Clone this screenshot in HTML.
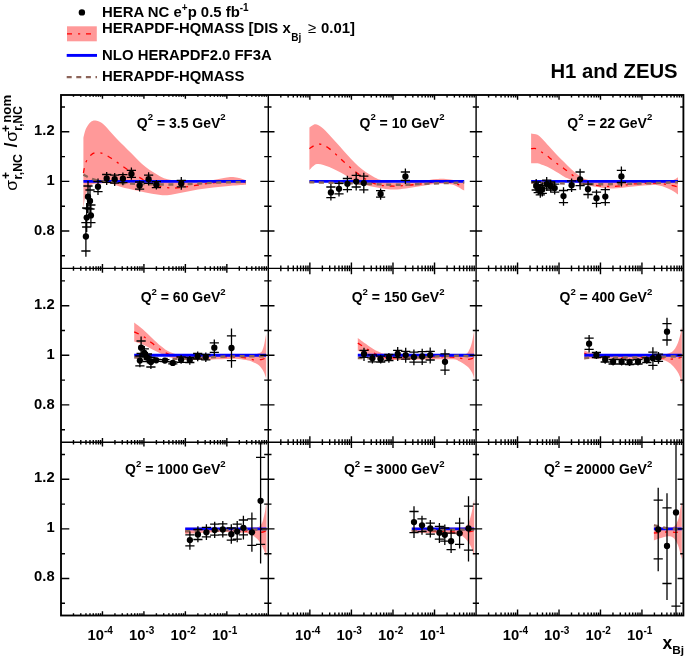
<!DOCTYPE html>
<html><head><meta charset="utf-8"><title>H1 and ZEUS</title><style>html,body{margin:0;padding:0;background:#fff}body{width:685px;height:659px;overflow:hidden}</style></head><body>
<svg width="685" height="659" viewBox="0 0 685 659" style="display:block;will-change:transform">
<rect width="685" height="659" fill="#fff"/>
<defs>
<clipPath id="c0"><rect x="61.0" y="95.0" width="207.3" height="173.4"/></clipPath>
<clipPath id="c1"><rect x="268.3" y="95.0" width="207.8" height="173.4"/></clipPath>
<clipPath id="c2"><rect x="476.1" y="95.0" width="207.3" height="173.4"/></clipPath>
<clipPath id="c3"><rect x="61.0" y="268.4" width="207.3" height="173.8"/></clipPath>
<clipPath id="c4"><rect x="268.3" y="268.4" width="207.8" height="173.8"/></clipPath>
<clipPath id="c5"><rect x="476.1" y="268.4" width="207.3" height="173.8"/></clipPath>
<clipPath id="c6"><rect x="61.0" y="442.2" width="207.3" height="173.3"/></clipPath>
<clipPath id="c7"><rect x="268.3" y="442.2" width="207.8" height="173.3"/></clipPath>
<clipPath id="c8"><rect x="476.1" y="442.2" width="207.3" height="173.3"/></clipPath>
</defs>
<g clip-path="url(#c0)">
<path d="M83.4 137.7C83.8 136.2 84.7 131.6 85.8 129.0C86.9 126.5 88.6 123.8 90.2 122.4C91.8 121.0 93.3 120.4 95.3 120.5C97.2 120.6 99.6 121.4 101.9 123.1C104.2 124.8 106.8 127.8 109.2 130.4C111.6 133.0 114.1 135.9 116.5 138.5C118.9 141.1 121.4 143.4 123.8 145.8C126.2 148.2 128.7 150.7 131.1 153.1C133.5 155.5 136.0 158.1 138.4 160.4C140.8 162.7 143.3 165.0 145.7 166.9C148.1 168.8 150.6 170.4 153.0 172.0C155.4 173.6 157.9 175.2 160.3 176.4C162.7 177.6 165.2 178.6 167.6 179.3C170.0 180.0 172.4 180.4 174.9 180.8C177.4 181.2 178.8 181.5 182.6 181.8C186.4 182.1 192.9 182.7 198.0 182.4C203.1 182.1 208.2 180.8 213.3 179.9C218.4 179.0 224.5 177.5 228.6 177.2C232.7 176.8 234.9 177.3 237.8 177.8C240.7 178.3 244.6 179.8 246.0 180.2L246.0 184.8C243.1 185.0 234.0 185.6 228.6 186.0C223.2 186.4 218.4 186.9 213.3 187.5C208.2 188.1 203.1 188.7 198.0 189.5C192.9 190.3 187.7 191.6 182.6 192.5C177.5 193.4 172.4 195.0 167.3 195.2C162.2 195.4 157.1 194.5 152.0 193.7C146.9 192.9 141.7 191.7 136.6 190.6C131.5 189.5 125.7 188.2 121.3 187.0C116.9 185.8 113.6 184.2 110.0 183.6C106.4 183.0 103.1 183.3 99.9 183.6C96.7 183.9 93.1 183.4 90.7 185.5C88.3 187.6 86.7 192.2 85.5 196.0C84.3 199.8 83.8 206.3 83.4 208.4Z" fill="#ff9999"/>
<path d="M83.4 173.0C83.8 171.2 84.7 165.0 86.0 162.0C87.3 159.0 89.2 156.6 91.0 155.0C92.8 153.4 94.5 152.7 96.7 152.5C98.9 152.3 101.3 152.8 104.0 154.0C106.7 155.2 109.8 157.4 113.0 159.5C116.2 161.6 119.7 164.2 123.0 166.5C126.3 168.8 129.7 171.3 133.0 173.5C136.3 175.7 139.7 177.8 143.0 179.5C146.3 181.2 149.7 182.8 153.0 184.0C156.3 185.2 159.7 186.3 163.0 187.0C166.3 187.7 169.7 187.9 173.0 188.0C176.3 188.1 178.8 187.8 183.0 187.3C187.2 186.8 193.0 185.8 198.0 185.0C203.0 184.2 208.0 183.4 213.0 182.8C218.0 182.2 222.5 181.7 228.0 181.5C233.5 181.3 243.0 181.8 246.0 181.8" fill="none" stroke="#ff0000" stroke-width="1.3" stroke-dasharray="5 6 2.2 5.8"/>
<path d="M83.4 181.4H246.0" stroke="#0000ff" stroke-width="2.9" fill="none"/>
<path d="M83.4 174.7C84.5 175.2 87.2 176.9 90.0 178.0C92.8 179.1 95.0 180.2 100.0 181.0C105.0 181.8 113.3 182.5 120.0 183.0C126.7 183.5 133.3 183.8 140.0 184.0C146.7 184.2 153.3 184.4 160.0 184.5C166.7 184.6 173.3 184.5 180.0 184.3C186.7 184.1 193.3 183.8 200.0 183.5C206.7 183.2 212.3 182.8 220.0 182.5C227.7 182.2 241.7 182.1 246.0 182.0" fill="none" stroke="#8c6459" stroke-width="2.4" stroke-dasharray="5 4.6"/>
<path d="M85.9 216.0V256.8M86.7 203.0V232.0M88.0 181.0V213.0M90.0 186.0V214.0M90.9 200.0V227.0M98.0 178.5V195.0M106.7 172.0V185.0M114.7 173.0V186.0M122.9 172.5V185.3M131.4 167.5V179.8M139.6 180.6V191.5M148.6 172.2V185.6M156.4 180.1V189.5M181.3 177.1V189.7M81.3 222.6h9.2M81.3 251.0h9.2M82.1 208.0h9.2M82.1 227.0h9.2M83.4 186.0h9.2M83.4 208.5h9.2M85.4 190.0h9.2M85.4 209.0h9.2M86.3 205.0h9.2M86.3 222.6h9.2M93.4 181.5h9.2M93.4 191.7h9.2M102.1 174.5h9.2M102.1 182.4h9.2M110.1 175.2h9.2M110.1 183.2h9.2M118.3 174.7h9.2M118.3 182.7h9.2M126.8 170.4h9.2M126.8 177.4h9.2M135.0 182.0h9.2M135.0 189.1h9.2M144.0 175.1h9.2M144.0 183.3h9.2M151.8 181.7h9.2M151.8 187.6h9.2M176.7 180.4h9.2M176.7 186.8h9.2" stroke="#000" stroke-width="1.3" fill="none"/>
<circle cx="85.9" cy="236.5" r="3.15"/><circle cx="86.7" cy="217.6" r="3.15"/><circle cx="88.0" cy="196.7" r="3.15"/><circle cx="90.0" cy="200.9" r="3.15"/><circle cx="90.9" cy="215.4" r="3.15"/><circle cx="98.0" cy="186.7" r="3.15"/><circle cx="106.7" cy="178.4" r="3.15"/><circle cx="114.7" cy="179.2" r="3.15"/><circle cx="122.9" cy="178.7" r="3.15"/><circle cx="131.4" cy="173.9" r="3.15"/><circle cx="139.6" cy="185.6" r="3.15"/><circle cx="148.6" cy="179.2" r="3.15"/><circle cx="156.4" cy="184.7" r="3.15"/><circle cx="181.3" cy="183.5" r="3.15"/>
</g>
<g clip-path="url(#c1)">
<path d="M309.4 127.5C310.4 127.0 313.2 124.2 315.3 124.2C317.4 124.2 319.6 125.7 321.9 127.5C324.2 129.3 326.8 132.2 329.2 134.8C331.6 137.4 334.1 140.1 336.5 142.8C338.9 145.5 341.4 148.2 343.8 150.9C346.2 153.6 348.7 156.4 351.1 158.9C353.5 161.4 356.0 164.0 358.4 166.2C360.8 168.4 363.3 170.3 365.7 172.0C368.1 173.7 370.6 175.1 373.0 176.4C375.4 177.7 377.4 178.8 380.3 179.8C383.2 180.8 386.3 182.0 390.6 182.4C394.9 182.8 400.9 182.6 406.0 182.4C411.1 182.2 416.2 181.6 421.3 181.0C426.4 180.4 432.5 179.3 436.6 179.0C440.7 178.7 442.7 178.7 445.8 178.9C448.9 179.1 451.9 179.7 455.0 180.3C458.1 180.9 462.7 182.2 464.2 182.6L464.2 190.6C462.2 189.6 456.6 185.6 452.0 184.5C447.4 183.4 441.7 183.7 436.6 183.9C431.5 184.2 426.4 185.2 421.3 186.0C416.2 186.8 411.1 187.9 406.0 188.5C400.9 189.1 396.7 189.8 390.6 189.4C384.5 189.0 375.3 187.4 369.2 186.0C363.1 184.6 357.9 182.7 353.8 180.8C349.7 178.9 348.7 177.0 344.6 174.7C340.5 172.4 333.9 168.8 329.3 167.0C324.7 165.2 320.3 163.5 317.0 164.0C313.7 164.5 310.7 169.1 309.4 170.1Z" fill="#ff9999"/>
<path d="M309.4 148.6C310.9 147.8 315.3 144.0 318.6 144.0C321.9 144.0 325.0 145.5 329.3 148.6C333.6 151.7 339.5 157.9 344.6 162.4C349.7 166.9 354.9 171.7 360.0 175.3C365.1 178.9 370.2 182.1 375.3 183.9C380.4 185.7 385.5 185.8 390.6 186.0C395.7 186.2 400.9 185.8 406.0 185.4C411.1 185.1 416.2 184.5 421.3 183.9C426.4 183.3 431.5 182.3 436.6 182.1C441.7 181.9 447.4 181.9 452.0 182.7C456.6 183.5 462.2 186.3 464.2 187.0" fill="none" stroke="#ff0000" stroke-width="1.3" stroke-dasharray="5 6 2.2 5.8"/>
<path d="M309.4 181.4H464.2" stroke="#0000ff" stroke-width="2.9" fill="none"/>
<path d="M309.4 182.3C314.5 182.4 329.9 182.7 340.0 183.0C350.1 183.3 360.0 183.7 370.0 184.0C380.0 184.3 390.0 184.9 400.0 184.8C410.0 184.7 419.3 184.0 430.0 183.6C440.7 183.2 458.5 182.7 464.2 182.5" fill="none" stroke="#8c6459" stroke-width="2.4" stroke-dasharray="5 4.6"/>
<path d="M330.9 184.1V200.6M339.0 181.2V196.5M347.4 175.8V192.4M356.2 172.4V190.4M363.8 172.8V193.3M380.6 188.5V199.7M405.4 168.5V184.1M326.3 187.0h9.2M326.3 197.7h9.2M334.4 183.4h9.2M334.4 193.9h9.2M342.8 178.5h9.2M342.8 189.6h9.2M351.6 175.3h9.2M351.6 187.0h9.2M359.2 176.1h9.2M359.2 189.9h9.2M376.0 190.7h9.2M376.0 197.2h9.2M400.8 172.0h9.2M400.8 180.4h9.2" stroke="#000" stroke-width="1.3" fill="none"/>
<circle cx="330.9" cy="192.4" r="3.15"/><circle cx="339.0" cy="188.8" r="3.15"/><circle cx="347.4" cy="183.8" r="3.15"/><circle cx="356.2" cy="181.6" r="3.15"/><circle cx="363.8" cy="183.1" r="3.15"/><circle cx="380.6" cy="193.9" r="3.15"/><circle cx="405.4" cy="176.4" r="3.15"/>
</g>
<g clip-path="url(#c2)">
<path d="M531.1 133.4C532.2 133.6 535.7 134.0 537.5 134.8C539.3 135.7 539.9 136.6 541.9 138.5C543.9 140.4 546.8 143.8 549.2 146.5C551.6 149.2 554.1 151.9 556.5 154.5C558.9 157.1 561.4 159.4 563.8 161.8C566.2 164.2 568.7 166.9 571.1 169.1C573.5 171.3 576.0 173.3 578.4 175.0C580.8 176.7 582.5 178.2 585.7 179.3C588.9 180.4 593.1 181.4 597.6 181.8C602.1 182.2 607.9 181.8 613.0 181.8C618.1 181.8 623.2 181.8 628.3 181.8C633.4 181.8 638.5 181.8 643.6 181.8C648.7 181.8 654.4 182.0 659.0 181.8C663.6 181.6 668.0 181.6 671.2 180.8C674.4 180.0 676.9 177.8 678.0 177.2L678.0 194.6C676.9 193.8 674.4 191.5 671.2 190.0C668.0 188.5 663.6 186.2 659.0 185.4C654.4 184.6 648.7 185.1 643.6 185.4C638.5 185.7 633.4 186.5 628.3 187.0C623.2 187.5 618.1 188.5 613.0 188.5C607.9 188.5 603.7 188.0 597.6 187.0C591.5 186.0 581.1 183.8 576.2 182.4C571.3 181.0 570.3 179.6 568.2 178.6C566.1 177.6 565.8 177.5 563.8 176.4C561.8 175.3 558.9 173.4 556.5 172.0C554.1 170.6 551.6 168.9 549.2 167.7C546.8 166.5 543.9 165.4 541.9 164.7C539.9 164.0 539.3 163.5 537.5 163.3C535.7 163.1 532.2 163.3 531.1 163.3Z" fill="#ff9999"/>
<path d="M531.1 148.7C531.9 148.7 534.2 148.1 536.0 148.7C537.8 149.3 539.7 150.9 541.9 152.3C544.1 153.8 546.8 155.6 549.2 157.4C551.6 159.2 554.1 161.5 556.5 163.3C558.9 165.1 561.4 166.6 563.8 168.4C566.2 170.2 568.7 172.4 571.1 174.2C573.5 176.0 576.0 177.5 578.4 179.0C580.8 180.5 582.1 181.8 585.7 183.0C589.4 184.2 595.4 185.3 600.3 185.9C605.2 186.5 610.2 186.6 614.9 186.4C619.6 186.2 623.5 185.0 628.3 184.5C633.1 184.0 638.5 183.5 643.6 183.3C648.7 183.1 654.4 183.0 659.0 183.3C663.6 183.7 668.0 184.8 671.2 185.4C674.4 186.0 676.9 186.7 678.0 187.0" fill="none" stroke="#ff0000" stroke-width="1.3" stroke-dasharray="5 6 2.2 5.8"/>
<path d="M531.1 181.4H678.0" stroke="#0000ff" stroke-width="2.9" fill="none"/>
<path d="M531.1 182.6C535.9 182.7 548.5 183.0 560.0 183.3C571.5 183.6 586.7 184.3 600.0 184.3C613.3 184.3 627.0 183.8 640.0 183.5C653.0 183.2 671.7 182.5 678.0 182.3" fill="none" stroke="#8c6459" stroke-width="2.4" stroke-dasharray="5 4.6"/>
<path d="M536.2 179.0V193.0M538.2 181.6V195.6M540.3 183.8V197.8M542.3 182.4V196.4M546.7 177.1V191.1M550.7 179.5V192.5M554.7 181.6V194.6M563.5 187.3V205.8M571.6 178.5V192.1M580.1 168.8V189.7M588.0 180.9V198.5M596.5 189.7V207.4M605.3 187.3V205.8M621.4 166.4V186.5M531.6 182.0h9.2M531.6 190.0h9.2M533.6 184.6h9.2M533.6 192.6h9.2M535.7 186.8h9.2M535.7 194.8h9.2M537.7 185.4h9.2M537.7 193.4h9.2M542.1 180.1h9.2M542.1 188.1h9.2M546.1 182.0h9.2M546.1 190.0h9.2M550.1 184.1h9.2M550.1 192.1h9.2M558.9 190.5h9.2M558.9 202.6h9.2M567.0 180.9h9.2M567.0 189.7h9.2M575.5 172.0h9.2M575.5 185.7h9.2M583.4 184.1h9.2M583.4 194.5h9.2M591.9 192.1h9.2M591.9 203.4h9.2M600.7 189.7h9.2M600.7 202.6h9.2M616.8 170.4h9.2M616.8 182.5h9.2" stroke="#000" stroke-width="1.3" fill="none"/>
<circle cx="536.2" cy="186.0" r="3.15"/><circle cx="538.2" cy="188.6" r="3.15"/><circle cx="540.3" cy="190.8" r="3.15"/><circle cx="542.3" cy="189.4" r="3.15"/><circle cx="546.7" cy="184.1" r="3.15"/><circle cx="550.7" cy="186.0" r="3.15"/><circle cx="554.7" cy="188.1" r="3.15"/><circle cx="563.5" cy="196.1" r="3.15"/><circle cx="571.6" cy="185.2" r="3.15"/><circle cx="580.1" cy="179.3" r="3.15"/><circle cx="588.0" cy="189.2" r="3.15"/><circle cx="596.5" cy="198.2" r="3.15"/><circle cx="605.3" cy="196.6" r="3.15"/><circle cx="621.4" cy="176.4" r="3.15"/>
</g>
<g clip-path="url(#c3)">
<path d="M134.2 322.6C135.6 323.7 139.8 326.8 142.8 329.3C145.8 331.9 148.9 335.1 152.0 337.9C155.1 340.7 158.1 343.8 161.2 346.2C164.3 348.6 166.8 350.8 170.4 352.3C174.0 353.8 178.0 354.9 182.6 355.4C187.2 355.9 192.9 355.5 198.0 355.4C203.1 355.3 208.2 354.9 213.3 354.8C218.4 354.7 223.5 354.8 228.6 354.8C233.7 354.8 239.9 354.9 244.0 354.8C248.1 354.7 250.8 354.5 253.1 354.3C255.4 354.1 256.8 353.8 258.0 353.5C259.2 353.2 259.9 352.9 260.6 352.5C261.3 352.1 261.7 351.9 262.2 350.8C262.7 349.7 263.4 347.6 263.8 346.0C264.2 344.4 264.5 343.0 264.8 341.2C265.1 339.4 265.7 336.5 265.9 335.4C266.1 334.2 266.1 334.5 266.2 334.3L266.2 378.9C266.1 378.5 265.8 377.4 265.4 376.3C265.0 375.2 264.5 373.4 263.8 372.0C263.1 370.6 262.1 369.0 261.1 367.8C260.1 366.6 259.3 365.6 257.9 364.6C256.5 363.6 254.5 362.8 252.6 362.0C250.7 361.2 249.0 360.6 246.2 360.1C243.4 359.6 238.5 359.0 235.6 358.8C232.7 358.6 232.3 358.9 228.6 359.0C224.9 359.1 218.4 359.2 213.3 359.4C208.2 359.6 203.1 360.0 198.0 360.0C192.9 360.0 187.2 359.8 182.6 359.4C178.0 359.0 174.0 358.4 170.4 357.5C166.8 356.6 164.3 355.2 161.2 353.8C158.1 352.4 155.1 350.7 152.0 349.2C148.9 347.7 145.8 345.9 142.8 344.6C139.8 343.3 135.6 342.1 134.2 341.6Z" fill="#ff9999"/>
<path d="M134.2 331.8C135.6 332.5 139.8 334.2 142.8 336.1C145.8 338.0 148.9 340.8 152.0 343.1C155.1 345.5 158.1 348.2 161.2 350.2C164.3 352.1 166.8 353.6 170.4 354.8C174.0 356.0 178.0 357.0 182.6 357.5C187.2 358.0 192.9 357.9 198.0 357.8C203.1 357.7 208.2 357.0 213.3 356.9C218.4 356.8 223.5 356.8 228.6 356.9C233.7 357.0 239.8 357.1 244.0 357.6C248.2 358.1 250.7 359.5 253.7 359.8C256.7 360.1 260.1 359.7 262.2 359.3C264.3 358.9 265.5 357.8 266.2 357.5" fill="none" stroke="#ff0000" stroke-width="1.3" stroke-dasharray="5 6 2.2 5.8"/>
<path d="M134.2 355.3H266.2" stroke="#0000ff" stroke-width="2.9" fill="none"/>
<path d="M134.2 357.3C136.8 357.5 144.0 358.2 150.0 358.5C156.0 358.8 163.3 359.0 170.0 359.0C176.7 359.0 183.3 358.8 190.0 358.5C196.7 358.2 203.3 357.7 210.0 357.3C216.7 356.9 220.6 356.6 230.0 356.4C239.4 356.2 260.2 356.3 266.2 356.3" fill="none" stroke="#8c6459" stroke-width="2.4" stroke-dasharray="5 4.6"/>
<path d="M139.9 354.0V367.3M141.1 336.6V356.5M144.3 346.0V360.0M147.4 352.0V363.5M150.9 355.5V369.0M156.2 358.0V362.6M164.9 358.3V362.9M172.8 360.6V365.2M181.1 355.0V363.8M189.8 355.9V364.7M197.7 351.5V361.2M205.8 352.4V362.0M214.3 339.6V355.9M231.5 328.4V367.7M135.3 356.0h9.2M135.3 365.9h9.2M136.5 341.0h9.2M136.5 353.5h9.2M139.7 348.9h9.2M139.7 357.0h9.2M142.8 354.0h9.2M142.8 361.5h9.2M146.3 357.5h9.2M146.3 367.0h9.2M151.6 359.3h9.2M151.6 361.3h9.2M160.3 359.6h9.2M160.3 361.6h9.2M168.2 361.9h9.2M168.2 363.9h9.2M176.5 357.0h9.2M176.5 362.3h9.2M185.2 357.5h9.2M185.2 362.5h9.2M193.1 353.5h9.2M193.1 359.0h9.2M201.2 354.5h9.2M201.2 359.8h9.2M209.7 342.8h9.2M209.7 352.4h9.2M226.9 335.8h9.2M226.9 360.6h9.2" stroke="#000" stroke-width="1.3" fill="none"/>
<circle cx="139.9" cy="360.6" r="3.15"/><circle cx="141.1" cy="347.7" r="3.15"/><circle cx="144.3" cy="352.9" r="3.15"/><circle cx="147.4" cy="357.7" r="3.15"/><circle cx="150.9" cy="362.0" r="3.15"/><circle cx="156.2" cy="360.3" r="3.15"/><circle cx="164.9" cy="360.6" r="3.15"/><circle cx="172.8" cy="362.9" r="3.15"/><circle cx="181.1" cy="359.8" r="3.15"/><circle cx="189.8" cy="359.9" r="3.15"/><circle cx="197.7" cy="356.3" r="3.15"/><circle cx="205.8" cy="357.1" r="3.15"/><circle cx="214.3" cy="347.7" r="3.15"/><circle cx="231.5" cy="348.0" r="3.15"/>
</g>
<g clip-path="url(#c4)">
<path d="M357.8 337.9C359.2 338.9 363.2 341.9 366.1 344.0C369.0 346.1 372.2 348.6 375.3 350.2C378.4 351.8 380.9 352.9 384.5 353.8C388.1 354.7 390.7 355.2 396.8 355.4C402.9 355.6 412.1 354.9 421.3 354.8C430.5 354.7 444.9 354.9 451.9 354.8C458.8 354.8 460.4 354.8 463.0 354.5C465.6 354.2 466.1 354.0 467.2 353.2C468.3 352.4 468.8 350.8 469.4 349.6C470.0 348.4 470.4 347.5 470.9 346.0C471.4 344.5 471.9 342.6 472.3 340.8C472.7 339.0 473.1 336.7 473.4 335.0C473.7 333.3 474.1 331.5 474.2 330.8L474.2 380.0C474.0 379.2 473.7 376.5 473.1 375.0C472.6 373.5 471.8 372.1 470.9 370.8C470.0 369.5 469.1 368.2 468.0 367.1C466.9 366.0 465.8 365.2 464.3 364.2C462.8 363.2 461.3 362.1 459.2 361.3C457.1 360.5 458.2 359.6 451.9 359.3C445.6 359.0 430.5 359.3 421.3 359.4C412.1 359.5 402.9 360.0 396.8 360.0C390.7 360.0 388.1 359.8 384.5 359.4C380.9 359.0 378.4 358.4 375.3 357.5C372.2 356.6 369.0 354.9 366.1 353.8C363.2 352.7 359.2 351.3 357.8 350.8Z" fill="#ff9999"/>
<path d="M357.8 343.1C359.2 344.0 363.2 346.5 366.1 348.3C369.0 350.1 372.2 352.4 375.3 353.8C378.4 355.2 380.9 356.2 384.5 356.9C388.1 357.6 390.7 357.8 396.8 357.8C402.9 357.8 412.1 357.0 421.3 356.9C430.5 356.8 445.3 356.9 451.9 357.2C458.5 357.4 458.5 358.0 461.1 358.4C463.7 358.8 465.5 359.3 467.3 359.4C469.1 359.4 470.8 359.1 471.9 358.7C473.0 358.3 473.4 357.3 473.7 357.0" fill="none" stroke="#ff0000" stroke-width="1.3" stroke-dasharray="5 6 2.2 5.8"/>
<path d="M357.8 355.3H474.2" stroke="#0000ff" stroke-width="2.9" fill="none"/>
<path d="M357.8 358.0C361.5 358.1 373.0 358.3 380.0 358.3C387.0 358.3 393.3 358.1 400.0 358.0C406.7 357.9 413.3 357.7 420.0 357.4C426.7 357.1 433.3 356.6 440.0 356.3C446.7 356.0 454.3 355.8 460.0 355.8C465.7 355.9 471.8 356.5 474.2 356.6" fill="none" stroke="#8c6459" stroke-width="2.4" stroke-dasharray="5 4.6"/>
<path d="M364.0 347.8V360.9M372.4 353.9V363.5M380.7 354.8V363.5M388.9 353.0V362.7M397.7 346.9V360.9M405.7 347.8V362.7M413.9 349.5V365.3M422.2 348.7V364.9M430.2 347.4V363.5M445.0 349.2V374.9M359.4 350.4h9.2M359.4 357.4h9.2M367.8 354.8h9.2M367.8 361.8h9.2M376.1 356.2h9.2M376.1 362.0h9.2M384.3 354.5h9.2M384.3 360.5h9.2M393.1 350.4h9.2M393.1 357.4h9.2M401.1 351.3h9.2M401.1 359.2h9.2M409.3 352.2h9.2M409.3 362.1h9.2M417.6 351.6h9.2M417.6 362.1h9.2M425.6 351.3h9.2M425.6 360.0h9.2M440.4 353.9h9.2M440.4 370.2h9.2" stroke="#000" stroke-width="1.3" fill="none"/>
<circle cx="364.0" cy="353.9" r="3.15"/><circle cx="372.4" cy="358.3" r="3.15"/><circle cx="380.7" cy="359.2" r="3.15"/><circle cx="388.9" cy="357.4" r="3.15"/><circle cx="397.7" cy="353.9" r="3.15"/><circle cx="405.7" cy="355.1" r="3.15"/><circle cx="413.9" cy="357.1" r="3.15"/><circle cx="422.2" cy="356.5" r="3.15"/><circle cx="430.2" cy="355.1" r="3.15"/><circle cx="445.0" cy="361.8" r="3.15"/>
</g>
<g clip-path="url(#c5)">
<path d="M584.3 350.3C585.2 350.7 587.4 351.9 590.0 352.5C592.6 353.1 595.0 353.7 600.0 354.0C605.0 354.3 610.0 354.4 620.0 354.5C630.0 354.6 652.0 354.7 660.0 354.5C668.0 354.3 665.8 354.1 668.0 353.5C670.2 352.9 671.5 352.4 673.0 351.0C674.5 349.6 675.8 347.5 677.0 345.0C678.2 342.5 679.2 339.0 680.0 336.0C680.8 333.0 681.5 328.5 681.8 327.0L681.8 384.0C681.5 382.8 680.8 379.2 680.0 377.0C679.2 374.8 678.2 372.8 677.0 371.0C675.8 369.2 674.5 367.5 673.0 366.0C671.5 364.5 670.2 363.1 668.0 362.0C665.8 360.9 664.7 359.9 660.0 359.5C655.3 359.1 646.7 359.6 640.0 359.5C633.3 359.4 626.7 359.2 620.0 359.0C613.3 358.8 605.0 358.6 600.0 358.5C595.0 358.4 592.6 358.3 590.0 358.5C587.4 358.7 585.2 359.3 584.3 359.5Z" fill="#ff9999"/>
<path d="M584.3 353.0C585.2 353.4 587.4 354.8 590.0 355.5C592.6 356.2 595.0 356.7 600.0 357.0C605.0 357.3 610.0 357.4 620.0 357.5C630.0 357.6 651.7 357.2 660.0 357.5C668.3 357.8 667.2 358.8 670.0 359.0C672.8 359.2 675.0 358.8 677.0 358.5C679.0 358.2 681.0 357.2 681.8 357.0" fill="none" stroke="#ff0000" stroke-width="1.3" stroke-dasharray="5 6 2.2 5.8"/>
<path d="M584.3 355.3H681.8" stroke="#0000ff" stroke-width="2.9" fill="none"/>
<path d="M584.3 358.2C586.1 358.1 585.7 357.8 595.0 357.6C604.3 357.5 629.2 357.4 640.0 357.3C650.8 357.2 653.0 357.0 660.0 356.8C667.0 356.6 678.2 356.4 681.8 356.3" fill="none" stroke="#8c6459" stroke-width="2.4" stroke-dasharray="5 4.6"/>
<path d="M589.1 334.9V352.6M596.4 351.0V359.0M605.2 355.8V363.8M613.1 358.2V365.4M621.6 358.2V365.4M629.6 358.7V365.9M638.0 358.2V365.4M646.8 356.6V363.8M652.9 347.3V369.7M658.5 352.1V363.8M667.0 317.7V345.7M584.5 338.1h9.2M584.5 349.3h9.2M591.8 352.5h9.2M591.8 357.5h9.2M600.6 357.0h9.2M600.6 362.0h9.2M608.5 359.5h9.2M608.5 364.0h9.2M617.0 359.5h9.2M617.0 364.0h9.2M625.0 360.0h9.2M625.0 364.5h9.2M633.4 359.5h9.2M633.4 364.0h9.2M642.2 357.8h9.2M642.2 362.5h9.2M648.3 352.1h9.2M648.3 365.4h9.2M653.9 354.2h9.2M653.9 361.4h9.2M662.4 323.7h9.2M662.4 340.0h9.2" stroke="#000" stroke-width="1.3" fill="none"/>
<circle cx="589.1" cy="343.7" r="3.15"/><circle cx="596.4" cy="355.0" r="3.15"/><circle cx="605.2" cy="359.5" r="3.15"/><circle cx="613.1" cy="361.7" r="3.15"/><circle cx="621.6" cy="361.7" r="3.15"/><circle cx="629.6" cy="362.2" r="3.15"/><circle cx="638.0" cy="361.7" r="3.15"/><circle cx="646.8" cy="360.1" r="3.15"/><circle cx="652.9" cy="358.2" r="3.15"/><circle cx="658.5" cy="357.7" r="3.15"/><circle cx="667.0" cy="331.7" r="3.15"/>
</g>
<g clip-path="url(#c6)">
<path d="M185.2 527.7C187.7 527.7 190.9 527.7 200.0 527.7C209.1 527.7 230.8 527.7 240.0 527.7C249.2 527.7 251.8 527.6 255.0 527.5C258.1 527.4 257.8 527.4 258.9 526.8C260.0 526.2 260.8 525.2 261.5 524.0C262.2 522.8 262.5 522.0 263.1 519.8C263.7 517.5 264.6 513.7 265.2 510.5C265.8 507.3 266.3 502.2 266.5 500.5L266.5 556.5C265.9 555.1 264.2 550.6 263.0 548.0C261.8 545.4 260.3 542.8 259.0 541.0C257.7 539.2 256.5 538.2 255.0 537.0C253.5 535.8 252.5 534.8 250.0 534.0C247.5 533.2 245.0 532.8 240.0 532.5C235.0 532.2 226.7 531.9 220.0 532.0C213.3 532.1 205.8 532.7 200.0 533.0C194.2 533.3 187.7 533.8 185.2 534.0Z" fill="#ff9999"/>
<path d="M185.2 531.5C187.7 531.4 194.2 531.2 200.0 531.0C205.8 530.8 213.3 530.4 220.0 530.3C226.7 530.2 234.7 530.3 240.0 530.5C245.3 530.7 249.0 531.2 252.0 531.5C255.0 531.8 256.2 532.4 258.0 532.5C259.8 532.6 261.6 532.3 263.0 532.0C264.4 531.7 265.7 530.8 266.2 530.5" fill="none" stroke="#ff0000" stroke-width="1.3" stroke-dasharray="5 6 2.2 5.8"/>
<path d="M185.2 528.9H266.5" stroke="#0000ff" stroke-width="2.9" fill="none"/>
<path d="M185.2 531.2C187.7 531.2 194.2 531.1 200.0 531.0C205.8 530.9 213.3 530.6 220.0 530.4C226.7 530.2 232.2 529.9 240.0 529.8C247.8 529.6 262.1 529.5 266.5 529.5" fill="none" stroke="#8c6459" stroke-width="2.4" stroke-dasharray="5 4.6"/>
<path d="M189.9 531.6V549.7M197.9 526.3V542.2M206.4 524.2V540.1M214.7 521.7V538.0M222.8 521.0V537.4M231.3 524.2V543.7M237.2 521.0V542.2M243.4 515.7V539.5M251.9 512.5V551.8M260.6 440.4V563.5M185.3 534.8h9.2M185.3 545.9h9.2M193.3 529.5h9.2M193.3 539.5h9.2M201.8 527.4h9.2M201.8 536.9h9.2M210.1 524.2h9.2M210.1 535.2h9.2M218.2 523.8h9.2M218.2 534.8h9.2M226.7 528.0h9.2M226.7 540.1h9.2M232.6 524.2h9.2M232.6 539.1h9.2M238.8 520.0h9.2M238.8 534.8h9.2M247.3 518.9h9.2M247.3 545.4h9.2M256.0 457.3h9.2M256.0 544.4h9.2" stroke="#000" stroke-width="1.3" fill="none"/>
<circle cx="189.9" cy="540.1" r="3.15"/><circle cx="197.9" cy="534.4" r="3.15"/><circle cx="206.4" cy="532.3" r="3.15"/><circle cx="214.7" cy="530.1" r="3.15"/><circle cx="222.8" cy="529.5" r="3.15"/><circle cx="231.3" cy="534.2" r="3.15"/><circle cx="237.2" cy="531.6" r="3.15"/><circle cx="243.4" cy="527.8" r="3.15"/><circle cx="251.9" cy="532.3" r="3.15"/><circle cx="260.6" cy="500.8" r="3.15"/>
</g>
<g clip-path="url(#c7)">
<path d="M411.8 527.7C416.5 527.7 431.6 527.7 440.0 527.7C448.4 527.7 457.7 527.8 462.0 527.5C466.3 527.2 464.9 527.1 466.0 526.2C467.1 525.3 468.1 523.7 468.9 522.2C469.6 520.7 470.0 518.9 470.5 517.0C471.0 515.1 471.6 513.0 472.0 511.0C472.4 509.0 472.8 507.0 473.2 505.0C473.6 503.0 474.0 500.0 474.2 499.0L474.2 557.3C474.1 556.8 474.0 555.6 473.6 554.3C473.2 553.0 472.6 550.8 472.0 549.3C471.4 547.8 470.8 546.2 470.1 545.0C469.4 543.8 468.9 542.9 468.0 541.8C467.1 540.7 466.2 539.4 465.0 538.3C463.8 537.2 462.4 535.7 460.7 535.0C459.0 534.3 457.6 534.5 455.0 534.3C452.4 534.1 449.2 534.0 445.0 533.8C440.8 533.6 435.5 533.5 430.0 533.3C424.5 533.1 414.8 532.9 411.8 532.8Z" fill="#ff9999"/>
<path d="M411.8 530.8C414.8 530.8 424.5 530.9 430.0 531.0C435.5 531.1 440.3 531.3 445.0 531.5C449.7 531.7 454.5 532.1 458.0 532.3C461.5 532.5 463.4 532.8 466.0 532.5C468.6 532.2 472.4 530.8 473.7 530.5" fill="none" stroke="#ff0000" stroke-width="1.3" stroke-dasharray="5 6 2.2 5.8"/>
<path d="M411.8 528.9H474.2" stroke="#0000ff" stroke-width="2.9" fill="none"/>
<path d="M411.8 531.2C414.0 531.1 419.5 531.0 425.0 530.8C430.5 530.6 436.8 530.2 445.0 530.0C453.2 529.8 469.3 529.6 474.2 529.5" fill="none" stroke="#8c6459" stroke-width="2.4" stroke-dasharray="5 4.6"/>
<path d="M414.0 506.2V538.0M422.0 515.7V534.8M430.3 520.0V537.4M439.4 523.1V542.9M444.8 524.6V545.0M451.1 529.5V552.9M459.6 517.8V548.6M468.5 496.2V561.4M409.4 511.5h9.2M409.4 532.7h9.2M417.4 518.9h9.2M417.4 531.6h9.2M425.7 523.1h9.2M425.7 534.2h9.2M434.8 526.3h9.2M434.8 539.1h9.2M440.2 528.0h9.2M440.2 541.2h9.2M446.5 533.1h9.2M446.5 549.7h9.2M455.0 523.1h9.2M455.0 544.4h9.2M463.9 506.2h9.2M463.9 550.1h9.2" stroke="#000" stroke-width="1.3" fill="none"/>
<circle cx="414.0" cy="522.1" r="3.15"/><circle cx="422.0" cy="525.3" r="3.15"/><circle cx="430.3" cy="528.4" r="3.15"/><circle cx="439.4" cy="532.7" r="3.15"/><circle cx="444.8" cy="534.8" r="3.15"/><circle cx="451.1" cy="541.2" r="3.15"/><circle cx="459.6" cy="533.3" r="3.15"/><circle cx="468.5" cy="528.4" r="3.15"/>
</g>
<g clip-path="url(#c8)">
<path d="M653.9 527.0C655.8 527.1 662.0 527.5 665.0 527.5C668.0 527.5 670.2 527.7 672.0 527.3C673.8 526.9 674.6 526.0 675.5 525.0C676.4 524.0 677.0 522.4 677.6 521.0C678.2 519.6 678.5 519.0 679.0 516.5C679.5 514.0 680.4 508.1 680.9 505.8C681.4 503.5 681.6 503.1 681.8 502.5L681.8 559.5C681.6 558.9 681.3 557.4 680.9 555.8C680.5 554.2 680.0 551.8 679.5 550.0C679.0 548.2 678.5 546.4 677.9 545.0C677.3 543.6 676.8 542.8 676.0 541.5C675.2 540.2 674.3 538.4 673.0 537.5C671.7 536.6 670.2 536.2 668.0 536.3C665.8 536.4 662.4 537.6 660.0 538.3C657.6 539.0 654.9 540.2 653.9 540.6Z" fill="#ff9999"/>
<path d="M653.9 533.0C655.2 532.9 659.3 532.5 662.0 532.3C664.7 532.1 667.7 531.8 670.0 531.8C672.3 531.8 674.0 532.4 676.0 532.3C678.0 532.2 680.8 531.2 681.8 531.0" fill="none" stroke="#ff0000" stroke-width="1.3" stroke-dasharray="5 6 2.2 5.8"/>
<path d="M653.9 528.9H681.8" stroke="#0000ff" stroke-width="2.9" fill="none"/>
<path d="M653.9 525.3C654.9 525.5 658.0 526.1 660.0 526.6C662.0 527.1 663.5 527.7 666.0 528.1C668.5 528.5 672.4 528.9 675.0 529.1C677.6 529.3 680.7 529.4 681.8 529.4" fill="none" stroke="#8c6459" stroke-width="2.4" stroke-dasharray="5 4.6"/>
<path d="M658.2 487.8V571.2M667.0 493.3V599.9M676.0 430.4V616.4M653.6 500.1h9.2M653.6 558.9h9.2M662.4 507.8h9.2M662.4 583.5h9.2M671.4 430.4h9.2M671.4 606.2h9.2" stroke="#000" stroke-width="1.3" fill="none"/>
<circle cx="658.2" cy="529.4" r="3.15"/><circle cx="667.0" cy="546.0" r="3.15"/><circle cx="676.0" cy="512.4" r="3.15"/>
</g>
<path d="M73.48 94.95V96.65M80.78 94.95V96.65M85.96 94.95V96.65M89.98 94.95V96.65M93.26 94.95V96.65M96.04 94.95V96.65M98.44 94.95V96.65M100.56 94.95V96.65M102.46 94.95V98.85M114.94 94.95V96.65M122.24 94.95V96.65M127.42 94.95V96.65M131.44 94.95V96.65M134.72 94.95V96.65M137.50 94.95V96.65M139.90 94.95V96.65M142.02 94.95V96.65M143.92 94.95V98.85M156.40 94.95V96.65M163.70 94.95V96.65M168.88 94.95V96.65M172.90 94.95V96.65M176.18 94.95V96.65M178.96 94.95V96.65M181.36 94.95V96.65M183.48 94.95V96.65M185.38 94.95V98.85M197.86 94.95V96.65M205.16 94.95V96.65M210.34 94.95V96.65M214.36 94.95V96.65M217.64 94.95V96.65M220.42 94.95V96.65M222.82 94.95V96.65M224.94 94.95V96.65M226.84 94.95V98.85M239.32 94.95V96.65M246.62 94.95V96.65M251.80 94.95V96.65M255.82 94.95V96.65M259.10 94.95V96.65M261.88 94.95V96.65M264.28 94.95V96.65M266.40 94.95V96.65M280.81 94.95V97.45M288.13 94.95V97.45M293.32 94.95V97.45M297.35 94.95V97.45M300.64 94.95V97.45M303.42 94.95V97.45M305.83 94.95V97.45M307.96 94.95V97.45M309.86 94.95V99.65M322.37 94.95V97.45M329.69 94.95V97.45M334.88 94.95V97.45M338.91 94.95V97.45M342.20 94.95V97.45M344.98 94.95V97.45M347.39 94.95V97.45M349.52 94.95V97.45M351.42 94.95V99.65M363.93 94.95V97.45M371.25 94.95V97.45M376.44 94.95V97.45M380.47 94.95V97.45M383.76 94.95V97.45M386.54 94.95V97.45M388.95 94.95V97.45M391.08 94.95V97.45M392.98 94.95V99.65M405.49 94.95V97.45M412.81 94.95V97.45M418.00 94.95V97.45M422.03 94.95V97.45M425.32 94.95V97.45M428.10 94.95V97.45M430.51 94.95V97.45M432.64 94.95V97.45M434.54 94.95V99.65M447.05 94.95V97.45M454.37 94.95V97.45M459.56 94.95V97.45M463.59 94.95V97.45M466.88 94.95V97.45M469.66 94.95V97.45M472.07 94.95V97.45M474.20 94.95V97.45M488.58 94.95V97.45M495.88 94.95V97.45M501.06 94.95V97.45M505.08 94.95V97.45M508.36 94.95V97.45M511.14 94.95V97.45M513.54 94.95V97.45M515.66 94.95V97.45M517.56 94.95V99.65M530.04 94.95V97.45M537.34 94.95V97.45M542.52 94.95V97.45M546.54 94.95V97.45M549.82 94.95V97.45M552.60 94.95V97.45M555.00 94.95V97.45M557.12 94.95V97.45M559.02 94.95V99.65M571.50 94.95V97.45M578.80 94.95V97.45M583.98 94.95V97.45M588.00 94.95V97.45M591.28 94.95V97.45M594.06 94.95V97.45M596.46 94.95V97.45M598.58 94.95V97.45M600.48 94.95V99.65M612.96 94.95V97.45M620.26 94.95V97.45M625.44 94.95V97.45M629.46 94.95V97.45M632.74 94.95V97.45M635.52 94.95V97.45M637.92 94.95V97.45M640.04 94.95V97.45M641.94 94.95V99.65M654.42 94.95V97.45M661.72 94.95V97.45M666.90 94.95V97.45M670.92 94.95V97.45M674.20 94.95V97.45M676.98 94.95V97.45M679.38 94.95V97.45M681.50 94.95V97.45M73.48 266.15V270.65M80.78 266.15V270.65M85.96 266.15V270.65M89.98 266.15V270.65M93.26 266.15V270.65M96.04 266.15V270.65M98.44 266.15V270.65M100.56 266.15V270.65M102.46 264.10V272.70M114.94 266.15V270.65M122.24 266.15V270.65M127.42 266.15V270.65M131.44 266.15V270.65M134.72 266.15V270.65M137.50 266.15V270.65M139.90 266.15V270.65M142.02 266.15V270.65M143.92 264.10V272.70M156.40 266.15V270.65M163.70 266.15V270.65M168.88 266.15V270.65M172.90 266.15V270.65M176.18 266.15V270.65M178.96 266.15V270.65M181.36 266.15V270.65M183.48 266.15V270.65M185.38 264.10V272.70M197.86 266.15V270.65M205.16 266.15V270.65M210.34 266.15V270.65M214.36 266.15V270.65M217.64 266.15V270.65M220.42 266.15V270.65M222.82 266.15V270.65M224.94 266.15V270.65M226.84 264.10V272.70M239.32 266.15V270.65M246.62 266.15V270.65M251.80 266.15V270.65M255.82 266.15V270.65M259.10 266.15V270.65M261.88 266.15V270.65M264.28 266.15V270.65M266.40 266.15V270.65M280.81 265.55V271.25M288.13 265.55V271.25M293.32 265.55V271.25M297.35 265.55V271.25M300.64 265.55V271.25M303.42 265.55V271.25M305.83 265.55V271.25M307.96 265.55V271.25M309.86 262.50V274.30M322.37 265.55V271.25M329.69 265.55V271.25M334.88 265.55V271.25M338.91 265.55V271.25M342.20 265.55V271.25M344.98 265.55V271.25M347.39 265.55V271.25M349.52 265.55V271.25M351.42 262.50V274.30M363.93 265.55V271.25M371.25 265.55V271.25M376.44 265.55V271.25M380.47 265.55V271.25M383.76 265.55V271.25M386.54 265.55V271.25M388.95 265.55V271.25M391.08 265.55V271.25M392.98 262.50V274.30M405.49 265.55V271.25M412.81 265.55V271.25M418.00 265.55V271.25M422.03 265.55V271.25M425.32 265.55V271.25M428.10 265.55V271.25M430.51 265.55V271.25M432.64 265.55V271.25M434.54 262.50V274.30M447.05 265.55V271.25M454.37 265.55V271.25M459.56 265.55V271.25M463.59 265.55V271.25M466.88 265.55V271.25M469.66 265.55V271.25M472.07 265.55V271.25M474.20 265.55V271.25M488.58 265.55V271.25M495.88 265.55V271.25M501.06 265.55V271.25M505.08 265.55V271.25M508.36 265.55V271.25M511.14 265.55V271.25M513.54 265.55V271.25M515.66 265.55V271.25M517.56 262.50V274.30M530.04 265.55V271.25M537.34 265.55V271.25M542.52 265.55V271.25M546.54 265.55V271.25M549.82 265.55V271.25M552.60 265.55V271.25M555.00 265.55V271.25M557.12 265.55V271.25M559.02 262.50V274.30M571.50 265.55V271.25M578.80 265.55V271.25M583.98 265.55V271.25M588.00 265.55V271.25M591.28 265.55V271.25M594.06 265.55V271.25M596.46 265.55V271.25M598.58 265.55V271.25M600.48 262.50V274.30M612.96 265.55V271.25M620.26 265.55V271.25M625.44 265.55V271.25M629.46 265.55V271.25M632.74 265.55V271.25M635.52 265.55V271.25M637.92 265.55V271.25M640.04 265.55V271.25M641.94 262.50V274.30M654.42 265.55V271.25M661.72 265.55V271.25M666.90 265.55V271.25M670.92 265.55V271.25M674.20 265.55V271.25M676.98 265.55V271.25M679.38 265.55V271.25M681.50 265.55V271.25M73.48 439.95V444.45M80.78 439.95V444.45M85.96 439.95V444.45M89.98 439.95V444.45M93.26 439.95V444.45M96.04 439.95V444.45M98.44 439.95V444.45M100.56 439.95V444.45M102.46 437.90V446.50M114.94 439.95V444.45M122.24 439.95V444.45M127.42 439.95V444.45M131.44 439.95V444.45M134.72 439.95V444.45M137.50 439.95V444.45M139.90 439.95V444.45M142.02 439.95V444.45M143.92 437.90V446.50M156.40 439.95V444.45M163.70 439.95V444.45M168.88 439.95V444.45M172.90 439.95V444.45M176.18 439.95V444.45M178.96 439.95V444.45M181.36 439.95V444.45M183.48 439.95V444.45M185.38 437.90V446.50M197.86 439.95V444.45M205.16 439.95V444.45M210.34 439.95V444.45M214.36 439.95V444.45M217.64 439.95V444.45M220.42 439.95V444.45M222.82 439.95V444.45M224.94 439.95V444.45M226.84 437.90V446.50M239.32 439.95V444.45M246.62 439.95V444.45M251.80 439.95V444.45M255.82 439.95V444.45M259.10 439.95V444.45M261.88 439.95V444.45M264.28 439.95V444.45M266.40 439.95V444.45M280.81 439.35V445.05M288.13 439.35V445.05M293.32 439.35V445.05M297.35 439.35V445.05M300.64 439.35V445.05M303.42 439.35V445.05M305.83 439.35V445.05M307.96 439.35V445.05M309.86 436.30V448.10M322.37 439.35V445.05M329.69 439.35V445.05M334.88 439.35V445.05M338.91 439.35V445.05M342.20 439.35V445.05M344.98 439.35V445.05M347.39 439.35V445.05M349.52 439.35V445.05M351.42 436.30V448.10M363.93 439.35V445.05M371.25 439.35V445.05M376.44 439.35V445.05M380.47 439.35V445.05M383.76 439.35V445.05M386.54 439.35V445.05M388.95 439.35V445.05M391.08 439.35V445.05M392.98 436.30V448.10M405.49 439.35V445.05M412.81 439.35V445.05M418.00 439.35V445.05M422.03 439.35V445.05M425.32 439.35V445.05M428.10 439.35V445.05M430.51 439.35V445.05M432.64 439.35V445.05M434.54 436.30V448.10M447.05 439.35V445.05M454.37 439.35V445.05M459.56 439.35V445.05M463.59 439.35V445.05M466.88 439.35V445.05M469.66 439.35V445.05M472.07 439.35V445.05M474.20 439.35V445.05M488.58 439.35V445.05M495.88 439.35V445.05M501.06 439.35V445.05M505.08 439.35V445.05M508.36 439.35V445.05M511.14 439.35V445.05M513.54 439.35V445.05M515.66 439.35V445.05M517.56 436.30V448.10M530.04 439.35V445.05M537.34 439.35V445.05M542.52 439.35V445.05M546.54 439.35V445.05M549.82 439.35V445.05M552.60 439.35V445.05M555.00 439.35V445.05M557.12 439.35V445.05M559.02 436.30V448.10M571.50 439.35V445.05M578.80 439.35V445.05M583.98 439.35V445.05M588.00 439.35V445.05M591.28 439.35V445.05M594.06 439.35V445.05M596.46 439.35V445.05M598.58 439.35V445.05M600.48 436.30V448.10M612.96 439.35V445.05M620.26 439.35V445.05M625.44 439.35V445.05M629.46 439.35V445.05M632.74 439.35V445.05M635.52 439.35V445.05M637.92 439.35V445.05M640.04 439.35V445.05M641.94 436.30V448.10M654.42 439.35V445.05M661.72 439.35V445.05M666.90 439.35V445.05M670.92 439.35V445.05M674.20 439.35V445.05M676.98 439.35V445.05M679.38 439.35V445.05M681.50 439.35V445.05M73.48 613.20V615.45M80.78 613.20V615.45M85.96 613.20V615.45M89.98 613.20V615.45M93.26 613.20V615.45M96.04 613.20V615.45M98.44 613.20V615.45M100.56 613.20V615.45M102.46 611.15V615.45M114.94 613.20V615.45M122.24 613.20V615.45M127.42 613.20V615.45M131.44 613.20V615.45M134.72 613.20V615.45M137.50 613.20V615.45M139.90 613.20V615.45M142.02 613.20V615.45M143.92 611.15V615.45M156.40 613.20V615.45M163.70 613.20V615.45M168.88 613.20V615.45M172.90 613.20V615.45M176.18 613.20V615.45M178.96 613.20V615.45M181.36 613.20V615.45M183.48 613.20V615.45M185.38 611.15V615.45M197.86 613.20V615.45M205.16 613.20V615.45M210.34 613.20V615.45M214.36 613.20V615.45M217.64 613.20V615.45M220.42 613.20V615.45M222.82 613.20V615.45M224.94 613.20V615.45M226.84 611.15V615.45M239.32 613.20V615.45M246.62 613.20V615.45M251.80 613.20V615.45M255.82 613.20V615.45M259.10 613.20V615.45M261.88 613.20V615.45M264.28 613.20V615.45M266.40 613.20V615.45M280.81 612.60V615.45M288.13 612.60V615.45M293.32 612.60V615.45M297.35 612.60V615.45M300.64 612.60V615.45M303.42 612.60V615.45M305.83 612.60V615.45M307.96 612.60V615.45M309.86 609.55V615.45M322.37 612.60V615.45M329.69 612.60V615.45M334.88 612.60V615.45M338.91 612.60V615.45M342.20 612.60V615.45M344.98 612.60V615.45M347.39 612.60V615.45M349.52 612.60V615.45M351.42 609.55V615.45M363.93 612.60V615.45M371.25 612.60V615.45M376.44 612.60V615.45M380.47 612.60V615.45M383.76 612.60V615.45M386.54 612.60V615.45M388.95 612.60V615.45M391.08 612.60V615.45M392.98 609.55V615.45M405.49 612.60V615.45M412.81 612.60V615.45M418.00 612.60V615.45M422.03 612.60V615.45M425.32 612.60V615.45M428.10 612.60V615.45M430.51 612.60V615.45M432.64 612.60V615.45M434.54 609.55V615.45M447.05 612.60V615.45M454.37 612.60V615.45M459.56 612.60V615.45M463.59 612.60V615.45M466.88 612.60V615.45M469.66 612.60V615.45M472.07 612.60V615.45M474.20 612.60V615.45M488.58 612.60V615.45M495.88 612.60V615.45M501.06 612.60V615.45M505.08 612.60V615.45M508.36 612.60V615.45M511.14 612.60V615.45M513.54 612.60V615.45M515.66 612.60V615.45M517.56 609.55V615.45M530.04 612.60V615.45M537.34 612.60V615.45M542.52 612.60V615.45M546.54 612.60V615.45M549.82 612.60V615.45M552.60 612.60V615.45M555.00 612.60V615.45M557.12 612.60V615.45M559.02 609.55V615.45M571.50 612.60V615.45M578.80 612.60V615.45M583.98 612.60V615.45M588.00 612.60V615.45M591.28 612.60V615.45M594.06 612.60V615.45M596.46 612.60V615.45M598.58 612.60V615.45M600.48 609.55V615.45M612.96 612.60V615.45M620.26 612.60V615.45M625.44 612.60V615.45M629.46 612.60V615.45M632.74 612.60V615.45M635.52 612.60V615.45M637.92 612.60V615.45M640.04 612.60V615.45M641.94 609.55V615.45M654.42 612.60V615.45M661.72 612.60V615.45M666.90 612.60V615.45M670.92 612.60V615.45M674.20 612.60V615.45M676.98 612.60V615.45M679.38 612.60V615.45M681.50 612.60V615.45M61.00 255.80H65.00M61.00 231.00H69.30M61.00 206.20H65.00M61.00 181.40H69.30M61.00 156.60H65.00M61.00 131.80H69.30M61.00 107.00H65.00M61.00 429.70H65.00M61.00 404.90H69.30M61.00 380.10H65.00M61.00 355.30H69.30M61.00 330.50H65.00M61.00 305.70H69.30M61.00 280.90H65.00M61.00 603.30H65.00M61.00 578.50H69.30M61.00 553.70H65.00M61.00 528.90H69.30M61.00 504.10H65.00M61.00 479.30H69.30M61.00 454.50H65.00M264.20 255.80H271.50M260.30 231.00H274.50M264.20 206.20H271.50M260.30 181.40H274.50M264.20 156.60H271.50M260.30 131.80H274.50M264.20 107.00H271.50M264.20 429.70H271.50M260.30 404.90H274.50M264.20 380.10H271.50M260.30 355.30H274.50M264.20 330.50H271.50M260.30 305.70H274.50M264.20 280.90H271.50M264.20 603.30H271.50M260.30 578.50H274.50M264.20 553.70H271.50M260.30 528.90H274.50M264.20 504.10H271.50M260.30 479.30H274.50M264.20 454.50H271.50M472.80 255.80H479.00M469.80 231.00H482.20M472.80 206.20H479.00M469.80 181.40H482.20M472.80 156.60H479.00M469.80 131.80H482.20M472.80 107.00H479.00M472.80 429.70H479.00M469.80 404.90H482.20M472.80 380.10H479.00M469.80 355.30H482.20M472.80 330.50H479.00M469.80 305.70H482.20M472.80 280.90H479.00M472.80 603.30H479.00M469.80 578.50H482.20M472.80 553.70H479.00M469.80 528.90H482.20M472.80 504.10H479.00M469.80 479.30H482.20M472.80 454.50H479.00M680.20 255.80H683.40M677.50 231.00H683.40M680.20 206.20H683.40M677.50 181.40H683.40M680.20 156.60H683.40M677.50 131.80H683.40M680.20 107.00H683.40M680.20 429.70H683.40M677.50 404.90H683.40M680.20 380.10H683.40M677.50 355.30H683.40M680.20 330.50H683.40M677.50 305.70H683.40M680.20 280.90H683.40M680.20 603.30H683.40M677.50 578.50H683.40M680.20 553.70H683.40M677.50 528.90H683.40M680.20 504.10H683.40M677.50 479.30H683.40M680.20 454.50H683.40" stroke="#000" stroke-width="1.4" fill="none"/>
<path d="M268.3 95.0V615.5M476.1 95.0V615.5M61.0 268.4H683.4M61.0 442.2H683.4" stroke="#000" stroke-width="1.4" fill="none"/>
<rect x="61.0" y="95.0" width="622.4" height="520.5" stroke="#000" stroke-width="1.85" fill="none"/>
<text x="54.6" y="135.4" text-anchor="end" font-size="14.75" font-family="Liberation Sans, Arial, sans-serif" font-weight="bold">1.2</text>
<text x="54.6" y="185.0" text-anchor="end" font-size="14.75" font-family="Liberation Sans, Arial, sans-serif" font-weight="bold">1</text>
<text x="54.6" y="234.6" text-anchor="end" font-size="14.75" font-family="Liberation Sans, Arial, sans-serif" font-weight="bold">0.8</text>
<text x="54.6" y="309.3" text-anchor="end" font-size="14.75" font-family="Liberation Sans, Arial, sans-serif" font-weight="bold">1.2</text>
<text x="54.6" y="358.9" text-anchor="end" font-size="14.75" font-family="Liberation Sans, Arial, sans-serif" font-weight="bold">1</text>
<text x="54.6" y="408.5" text-anchor="end" font-size="14.75" font-family="Liberation Sans, Arial, sans-serif" font-weight="bold">0.8</text>
<text x="54.6" y="482.2" text-anchor="end" font-size="14.75" font-family="Liberation Sans, Arial, sans-serif" font-weight="bold">1.2</text>
<text x="54.6" y="531.8" text-anchor="end" font-size="14.75" font-family="Liberation Sans, Arial, sans-serif" font-weight="bold">1</text>
<text x="54.6" y="581.4" text-anchor="end" font-size="14.75" font-family="Liberation Sans, Arial, sans-serif" font-weight="bold">0.8</text>
<text x="87.6" y="640.4" font-size="14.75" font-family="Liberation Sans, Arial, sans-serif" font-weight="bold">10<tspan font-size="10" dy="-6.6">-4</tspan></text>
<text x="129.0" y="640.4" font-size="14.75" font-family="Liberation Sans, Arial, sans-serif" font-weight="bold">10<tspan font-size="10" dy="-6.6">-3</tspan></text>
<text x="170.5" y="640.4" font-size="14.75" font-family="Liberation Sans, Arial, sans-serif" font-weight="bold">10<tspan font-size="10" dy="-6.6">-2</tspan></text>
<text x="211.9" y="640.4" font-size="14.75" font-family="Liberation Sans, Arial, sans-serif" font-weight="bold">10<tspan font-size="10" dy="-6.6">-1</tspan></text>
<text x="295.0" y="640.4" font-size="14.75" font-family="Liberation Sans, Arial, sans-serif" font-weight="bold">10<tspan font-size="10" dy="-6.6">-4</tspan></text>
<text x="336.5" y="640.4" font-size="14.75" font-family="Liberation Sans, Arial, sans-serif" font-weight="bold">10<tspan font-size="10" dy="-6.6">-3</tspan></text>
<text x="378.1" y="640.4" font-size="14.75" font-family="Liberation Sans, Arial, sans-serif" font-weight="bold">10<tspan font-size="10" dy="-6.6">-2</tspan></text>
<text x="419.6" y="640.4" font-size="14.75" font-family="Liberation Sans, Arial, sans-serif" font-weight="bold">10<tspan font-size="10" dy="-6.6">-1</tspan></text>
<text x="502.7" y="640.4" font-size="14.75" font-family="Liberation Sans, Arial, sans-serif" font-weight="bold">10<tspan font-size="10" dy="-6.6">-4</tspan></text>
<text x="544.1" y="640.4" font-size="14.75" font-family="Liberation Sans, Arial, sans-serif" font-weight="bold">10<tspan font-size="10" dy="-6.6">-3</tspan></text>
<text x="585.6" y="640.4" font-size="14.75" font-family="Liberation Sans, Arial, sans-serif" font-weight="bold">10<tspan font-size="10" dy="-6.6">-2</tspan></text>
<text x="627.0" y="640.4" font-size="14.75" font-family="Liberation Sans, Arial, sans-serif" font-weight="bold">10<tspan font-size="10" dy="-6.6">-1</tspan></text>
<text x="225.7" y="127.5" text-anchor="end" font-size="14" font-family="Liberation Sans, Arial, sans-serif" font-weight="bold">Q<tspan font-size="9.6" dy="-7.2">2</tspan><tspan dy="7.2"> = 3.5 GeV</tspan><tspan font-size="9.6" dy="-7.2">2</tspan></text>
<text x="444.5" y="127.5" text-anchor="end" font-size="14" font-family="Liberation Sans, Arial, sans-serif" font-weight="bold">Q<tspan font-size="9.6" dy="-7.2">2</tspan><tspan dy="7.2"> = 10 GeV</tspan><tspan font-size="9.6" dy="-7.2">2</tspan></text>
<text x="652.3" y="127.5" text-anchor="end" font-size="14" font-family="Liberation Sans, Arial, sans-serif" font-weight="bold">Q<tspan font-size="9.6" dy="-7.2">2</tspan><tspan dy="7.2"> = 22 GeV</tspan><tspan font-size="9.6" dy="-7.2">2</tspan></text>
<text x="225.7" y="301.7" text-anchor="end" font-size="14" font-family="Liberation Sans, Arial, sans-serif" font-weight="bold">Q<tspan font-size="9.6" dy="-7.2">2</tspan><tspan dy="7.2"> = 60 GeV</tspan><tspan font-size="9.6" dy="-7.2">2</tspan></text>
<text x="444.5" y="301.7" text-anchor="end" font-size="14" font-family="Liberation Sans, Arial, sans-serif" font-weight="bold">Q<tspan font-size="9.6" dy="-7.2">2</tspan><tspan dy="7.2"> = 150 GeV</tspan><tspan font-size="9.6" dy="-7.2">2</tspan></text>
<text x="652.3" y="301.7" text-anchor="end" font-size="14" font-family="Liberation Sans, Arial, sans-serif" font-weight="bold">Q<tspan font-size="9.6" dy="-7.2">2</tspan><tspan dy="7.2"> = 400 GeV</tspan><tspan font-size="9.6" dy="-7.2">2</tspan></text>
<text x="225.7" y="474.3" text-anchor="end" font-size="14" font-family="Liberation Sans, Arial, sans-serif" font-weight="bold">Q<tspan font-size="9.6" dy="-7.2">2</tspan><tspan dy="7.2"> = 1000 GeV</tspan><tspan font-size="9.6" dy="-7.2">2</tspan></text>
<text x="444.5" y="474.3" text-anchor="end" font-size="14" font-family="Liberation Sans, Arial, sans-serif" font-weight="bold">Q<tspan font-size="9.6" dy="-7.2">2</tspan><tspan dy="7.2"> = 3000 GeV</tspan><tspan font-size="9.6" dy="-7.2">2</tspan></text>
<text x="652.3" y="474.3" text-anchor="end" font-size="14" font-family="Liberation Sans, Arial, sans-serif" font-weight="bold">Q<tspan font-size="9.6" dy="-7.2">2</tspan><tspan dy="7.2"> = 20000 GeV</tspan><tspan font-size="9.6" dy="-7.2">2</tspan></text>
<text x="550.4" y="77.5" font-size="19.6" textLength="127.2" lengthAdjust="spacingAndGlyphs" font-family="Liberation Sans, Arial, sans-serif" font-weight="bold">H1 and ZEUS</text>
<circle cx="81.9" cy="12.4" r="3.2"/>
<text x="102.1" y="17.3" font-size="14.9" font-family="Liberation Sans, Arial, sans-serif" font-weight="bold">HERA NC e<tspan font-size="10" dy="-6.7">+</tspan><tspan dy="6.7">p 0.5 fb</tspan><tspan font-size="10" dy="-6.7">-1</tspan></text>
<rect x="67" y="26.3" width="29.8" height="15" fill="#ff9999"/>
<path d="M67 33.9H96.8" stroke="#ff0000" stroke-width="1.3" stroke-dasharray="5 6 2.2 5.8" fill="none"/>
<text x="102.1" y="33.2" font-size="14.9" font-family="Liberation Sans, Arial, sans-serif" font-weight="bold">HERAPDF-HQMASS [DIS x<tspan font-size="10" dy="7.4" dx="0.6">Bj</tspan><tspan dy="-7.4" dx="6.5" font-weight="normal">≥</tspan><tspan dx="0.8"> 0.01]</tspan></text>
<path d="M66.7 55.4H97" stroke="#0000ff" stroke-width="2.9" fill="none"/>
<text x="102.1" y="60.2" font-size="14.9" font-family="Liberation Sans, Arial, sans-serif" font-weight="bold">NLO HERAPDF2.0 FF3A</text>
<path d="M66.7 77.1H97" stroke="#8c6459" stroke-width="2.4" stroke-dasharray="5 4.6" fill="none"/>
<text x="102.1" y="81.3" font-size="14.9" font-family="Liberation Sans, Arial, sans-serif" font-weight="bold">HERAPDF-HQMASS</text>
<text x="662.5" y="649.4" font-size="17.5" font-family="Liberation Sans, Arial, sans-serif" font-weight="bold">x<tspan font-size="11.8" dy="4.8">Bj</tspan></text>
<g transform="translate(17.0,191.3) rotate(-90)">
<text transform="translate(0.5,0) scale(0.95,0.93)" font-family="Liberation Sans, Arial, sans-serif" font-size="18.5">σ</text>
<text x="12.2" y="-6.9" font-size="12" font-family="Liberation Sans, Arial, sans-serif" font-weight="bold">+</text>
<text x="11.9" y="5.4" font-size="12.4" font-family="Liberation Sans, Arial, sans-serif" font-weight="bold">r,NC</text>
<text x="43.7" y="0" font-size="17.5" font-family="Liberation Sans, Arial, sans-serif" font-weight="bold">/</text>
<text transform="translate(49.6,0) scale(0.95,0.93)" font-family="Liberation Sans, Arial, sans-serif" font-size="18.5">σ</text>
<text x="59.4" y="-6.9" font-size="12" font-family="Liberation Sans, Arial, sans-serif" font-weight="bold">+</text>
<text x="60.5" y="5.4" font-size="12" font-family="Liberation Sans, Arial, sans-serif" font-weight="bold">r,NC</text>
<text x="68.6" y="-6.1" font-size="13.2" font-family="Liberation Sans, Arial, sans-serif" font-weight="bold">nom</text>
</g>
</svg>
</body></html>
